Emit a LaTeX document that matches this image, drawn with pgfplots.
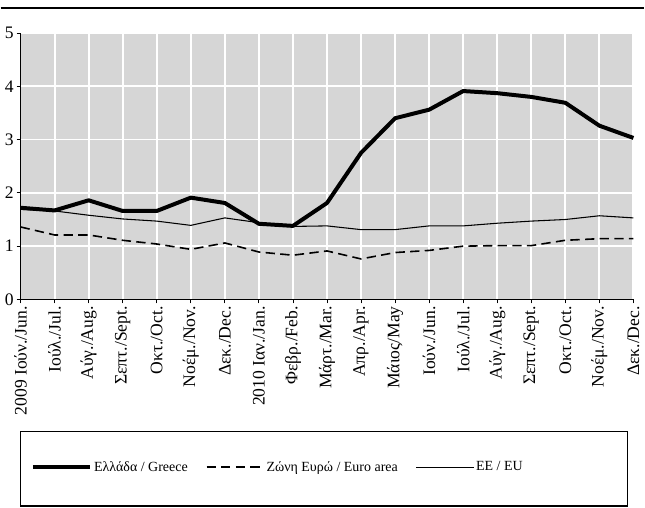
\documentclass[border=0pt]{standalone}
\usepackage{fontspec}
\setmainfont{Liberation Serif}
\usepackage{pgfplots}
\pgfplotsset{compat=1.18}
\begin{document}
\begin{tikzpicture}
\path (0pt,0pt) rectangle (483.75pt,-381pt);
\draw[line width=0.9pt] (0pt,-6pt) -- (483.75pt,-6pt);
\draw[line width=1pt] (15pt,-324pt) rectangle (471pt,-380.25pt);
\begin{axis}[
  at={(15pt,-225pt)}, anchor=south west,
  scale only axis, width=460.5pt, height=200.25pt,
  xmin=0, xmax=18, ymin=0, ymax=5,
  xtick={0,...,18}, ytick={0,...,5},
  xticklabels={2009 Ιούν./Jun., Ιούλ./Jul., Αύγ./Aug., Σεπτ./Sept., Οκτ./Oct., Νοέμ./Nov., Δεκ./Dec., 2010 Ιαν./Jan., Φεβρ./Feb., Μάρτ./Mar., Απρ./Apr., Μάιος/May, Ιούν./Jun., Ιούλ./Jul., Αύγ./Aug., Σεπτ./Sept., Οκτ./Oct., Νοέμ./Nov., Δεκ./Dec.},
  x tick label style={rotate=90, anchor=east, font=\fontsize{13.2}{14}\selectfont, inner sep=2pt},
  y tick label style={font=\fontsize{13.2}{14}\selectfont, inner sep=2pt},
  /pgf/number format/assume math mode=true,
  axis x line*=bottom, axis y line*=left,
  axis line style={line width=0.8pt},
  tick align=outside, major tick length=3pt,
  tick style={black, line width=0.6pt},
  grid=major, major grid style={white, line width=1.4pt},
  axis background/.style={fill=black!16},
  clip=false,
  legend columns=3,
  legend style={at={(0.0163,-0.629)}, anchor=west, draw=none, fill=none, inner sep=0pt,
    font=\fontsize{10.5}{12}\selectfont, /tikz/every even column/.append style={column sep=12pt},
    nodes={inner sep=1.5pt}},
  legend image code/.code={\draw[#1] (0pt,0pt) -- (43pt,0pt);},
]
\addplot[black, line width=3pt, line join=round] coordinates {
(0,1.72) (1,1.67) (2,1.86) (3,1.66) (4,1.66) (5,1.91) (6,1.81) (7,1.42) (8,1.38) (9,1.81)
(10,2.75) (11,3.40) (12,3.56) (13,3.91) (14,3.87) (15,3.80) (16,3.69) (17,3.26) (18,3.03)};
\addlegendentry{Ελλάδα / Greece}
\addplot[black, line width=1.2pt, dash pattern=on 7pt off 4pt] coordinates {
(0,1.36) (1,1.21) (2,1.21) (3,1.11) (4,1.04) (5,0.94) (6,1.06) (7,0.89) (8,0.83) (9,0.91)
(10,0.76) (11,0.88) (12,0.92) (13,1.00) (14,1.01) (15,1.01) (16,1.11) (17,1.14) (18,1.14)};
\addlegendentry{Ζώνη Ευρώ / Euro area}
\addplot[black, line width=0.8pt] coordinates {
(0,1.69) (1,1.66) (2,1.58) (3,1.51) (4,1.47) (5,1.39) (6,1.53) (7,1.44) (8,1.37) (9,1.38)
(10,1.31) (11,1.31) (12,1.38) (13,1.38) (14,1.43) (15,1.47) (16,1.50) (17,1.57) (18,1.53)};
\addlegendentry{ΕΕ / EU}
\end{axis}
\end{tikzpicture}
\end{document}
